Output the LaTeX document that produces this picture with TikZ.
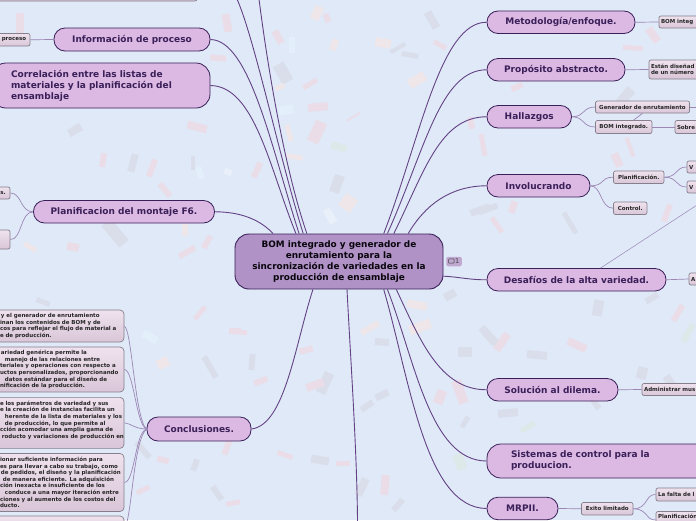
\documentclass[tikz,border=0pt]{standalone}
\usepackage{fontspec}
\setmainfont{DejaVu Sans}
\usetikzlibrary{positioning}
\definecolor{mm-back}{HTML}{DFE9F8}
\definecolor{mm-root}{HTML}{B092C6}
\definecolor{mm-topic}{HTML}{DBB9E3}
\definecolor{mm-edge}{HTML}{3A1F58}
\definecolor{mm-branch}{HTML}{634284}
\definecolor{mm-twig}{HTML}{9C86B4}
\definecolor{mm-leaftop}{HTML}{EFE2EE}
\definecolor{mm-leafbot}{HTML}{D9C6D8}
\definecolor{mm-leafedge}{HTML}{85808C}
\definecolor{cf-pink}{HTML}{EADDE8}
\definecolor{cf-grey}{HTML}{DADEEB}
\definecolor{cf-orange}{HTML}{EEE6E8}
\definecolor{cf-cyan}{HTML}{E3EFFA}
\definecolor{cf-green}{HTML}{DDE8E8}
\definecolor{cf-back}{HTML}{EAF0FA}
\tikzset{
  rootnode/.style={draw=mm-edge,fill=mm-root,line width=0.9pt,rounded corners=14pt,inner sep=0pt,
    align=center,text=black!85!mm-edge,font={\bfseries\fontsize{8.9}{11}\selectfont}},
  topic/.style={draw=mm-edge,fill=mm-topic,line width=0.8pt,rounded corners=11pt,inner sep=0pt,
    align=center,text=mm-edge,font={\bfseries\fontsize{9}{11}\selectfont}},
  leaf/.style={draw=mm-leafedge,top color=mm-leaftop,bottom color=mm-leafbot,line width=0.7pt,
    rounded corners=2pt,inner sep=0pt,align=center,text=black!85,font={\bfseries\fontsize{5.5}{6.6}\selectfont}},
  note/.style={leaf,rounded corners=4pt,text width=134pt,align=left},
  branch/.style={draw=mm-branch,line width=0.9pt},
  twig/.style={draw=mm-twig,line width=0.7pt},
}
\newcommand{\cut}[1]{\hspace*{#1pt}}
\begin{document}
\begin{tikzpicture}[x=1pt,y=-1pt]
  \useasboundingbox (0,0) rectangle (696,520);
  \fill[mm-back] (0,0) rectangle (696,520);
  % confetti
  \foreach \cx/\cy/\cw/\ch/\ca/\cc in {
    227/23/8/18/10/cf-pink, 317/13/9/14/-25/cf-orange, 327/18/6/9/20/cf-pink, 283/73/12/20/30/cf-grey,
    292/45/6/16/0/cf-cyan, 278/37/7/14/30/cf-pink, 334/45/7/11/-20/cf-orange, 383/43/16/9/-10/cf-orange,
    398/48/17/4/30/cf-grey, 410/55/17/5/-10/cf-grey, 417/80/10/18/-60/cf-orange, 432/20/8/18/30/cf-grey,
    440/45/14/5/-30/cf-pink, 218/58/16/6/-5/cf-pink, 280/87/10/5/20/cf-orange, 310/84/16/5/30/cf-pink,
    286/110/15/9/10/cf-cyan, 318/107/20/8/5/cf-pink, 353/117/16/2/30/cf-pink, 317/132/12/22/-25/cf-pink,
    339/147/16/7/-15/cf-green, 295/157/16/5/-10/cf-orange, 289/133/5/17/15/cf-orange, 471/123/6/12/10/cf-pink,
    483/145/5/22/10/cf-pink, 337/184/10/18/-20/cf-grey, 348/203/14/15/-35/cf-orange, 330/216/8/16/30/cf-back,
    488/209/20/6/20/cf-grey, 257/170/6/16/-25/cf-pink, 20/23/8/20/0/cf-pink, 75/130/14/8/30/cf-grey,
    197/127/20/8/-15/cf-pink, 103/160/6/14/-10/cf-pink, 133/163/7/18/-15/cf-grey, 152/168/6/18/-20/cf-pink,
    165/190/6/16/40/cf-pink, 193/163/4/14/0/cf-grey, 200/173/6/12/15/cf-cyan, 228/172/8/6/-20/cf-back,
    115/233/12/28/40/cf-grey, 73/247/12/8/-10/cf-pink, 185/230/6/12/0/cf-orange, 207/242/6/14/-30/cf-pink,
    187/252/18/6/30/cf-pink, 30/247/14/5/-30/cf-orange, 370/328/20/6/30/cf-orange, 382/342/14/7/-5/cf-grey,
    252/362/6/16/-5/cf-grey, 306/350/14/6/15/cf-pink, 238/332/18/5/-5/cf-pink, 261/381/14/6/20/cf-pink,
    325/383/10/22/-25/cf-grey, 315/385/18/8/20/cf-pink, 382/395/14/7/25/cf-grey, 367/406/14/6/35/cf-grey,
    320/460/18/8/-10/cf-grey, 343/463/14/5/0/cf-pink, 285/455/16/5/-20/cf-pink, 362/487/8/18/-25/cf-grey,
    385/485/8/20/-5/cf-pink, 398/505/6/14/-40/cf-grey, 420/327/10/22/-70/cf-orange, 417/305/20/8/-10/cf-orange,
    450/295/12/8/30/cf-grey, 460/392/10/24/20/cf-pink, 440/397/10/14/-20/cf-pink, 488/335/8/20/40/cf-grey,
    465/352/14/10/0/cf-grey, 465/422/5/12/-30/cf-grey, 460/462/10/16/20/cf-green, 493/340/8/20/45/cf-grey,
    502/342/8/20/-35/cf-pink, 577/345/8/20/65/cf-pink, 537/355/20/8/-5/cf-grey, 678/313/6/18/-30/cf-pink,
    688/333/6/20/-30/cf-green, 598/308/10/16/-10/cf-grey, 652/298/14/6/30/cf-grey, 642/373/10/12/-15/cf-grey,
    508/413/20/8/5/cf-grey, 528/427/16/5/30/cf-green, 595/403/6/14/35/cf-grey, 653/387/12/5/-25/cf-pink,
    670/382/8/14/35/cf-grey, 653/35/8/16/35/cf-pink, 633/48/20/5/-5/cf-pink, 625/97/10/20/-40/cf-grey,
    517/87/6/12/-65/cf-pink, 570/223/5/24/30/cf-grey, 617/160/8/14/25/cf-pink, 630/147/4/20/20/cf-pink,
    480/210/20/7/20/cf-grey, 667/213/6/18/-20/cf-pink, 513/207/7/12/-20/cf-pink, 497/225/5/18/35/cf-pink,
    43/302/14/5/-20/cf-grey, 210/367/6/24/30/cf-grey, 163/363/12/10/25/cf-orange, 150/337/16/8/-30/cf-cyan,
    143/450/6/20/40/cf-grey, 163/460/12/6/-15/cf-pink, 195/465/6/12/-20/cf-grey, 217/493/6/16/35/cf-grey,
    227/447/6/16/-20/cf-pink, 200/313/5/16/-40/cf-pink, 235/330/12/5/0/cf-pink, 143/490/14/5/25/cf-pink,
    233/503/14/5/10/cf-pink} {
    \fill[fill=\cc,shift={(\cx,\cy)},rotate=\ca] (-\cw/2,-\ch/2) rectangle (\cw/2,\ch/2);
  }
  % central node
  \node[rootnode,minimum width=208pt,minimum height=55pt] (central) at (339,261.5)
    {BOM integrado y generador de\\enrutamiento para la\\sincronización de variedades en la\\producción de ensamblaje};
  \node[fill=mm-root!80!white,rounded corners=2pt,minimum width=15.5pt,minimum height=9.5pt,inner sep=0pt,
    text=black!75,font={\fontsize{6.5}{7}\selectfont}] (comment) at (454,261.5) {\hspace*{6.5pt}1};
  \draw[black!75,line width=0.5pt,rounded corners=0.8pt] (448.5,258.8) rectangle (454,263.2);
  % topics on the left
  \node[topic,minimum width=156pt,minimum height=23pt] (info) at (132,39.5) {Información de proceso};
  \node[topic,inner xsep=19pt,text width=180pt,align=left,rounded corners=14pt,minimum height=45pt] (correl) at (101,85.5)
    {Correlación entre las listas de\\materiales y la planificación del\\ensamblaje};
  \node[topic,minimum width=181pt,minimum height=22.5pt] (montaje) at (124,211.75) {Planificacion del montaje F6.};
  \node[topic,minimum width=104pt,minimum height=24pt] (concl) at (199,429) {Conclusiones.};
  % topics on the right
  \node[topic,minimum width=148pt,minimum height=22.5pt] (metod) at (561,22.25) {Metodología/enfoque.};
  \node[topic,minimum width=138pt,minimum height=22.5pt] (propos) at (556,69.75) {Propósito abstracto.};
  \node[topic,minimum width=84.5pt,minimum height=22.5pt] (hallaz) at (529.25,116.75) {Hallazgos};
  \node[topic,minimum width=103pt,minimum height=22.5pt] (involu) at (538.5,185.75) {Involucrando};
  \node[topic,minimum width=179pt,minimum height=22.5pt] (desaf) at (576.5,279.75) {Desafíos de la alta variedad.};
  \node[topic,minimum width=131pt,minimum height=22.5pt] (soluc) at (552.5,389.75) {Solución al dilema.};
  \node[topic,inner xsep=24pt,text width=175pt,align=left,rounded corners=14pt,minimum height=34pt] (sistem) at (598.5,461)
    {Sistemas de control para la\\produucion.};
  \node[topic,minimum width=71pt,minimum height=22.5pt] (mrp) at (522.5,508.5) {MRPII.};
  % leaves on the left
  \node[leaf,minimum width=32pt,minimum height=12.5pt] (lproceso) at (14,39.75) {proceso};
  \node[leaf,minimum width=14pt,minimum height=12pt] (lmontaje) at (3,193) {s.};
  \node[leaf,minimum width=20pt,minimum height=19pt] (lvacio) at (0,239.5) {};
  \node[leaf,minimum width=207pt,minimum height=20pt] (ltop) at (93.5,-9) {};
  \node[note,minimum height=32pt] (nota) at (57,326)
    {\cut{11}y el generador de enrutamiento\\\cut{10}inan los contenidos de BOM y de\\\cut{10}cos para reflejar el flujo de material a\\\cut{10}e de producción.};
  \node[note,minimum height=45pt] (notb) at (57,369.5)
    {\cut{11}ariedad genérica permite la\\\cut{15}manejo de las relaciones entre\\\cut{10}teriales y operaciones con respecto a\\\cut{10}uctos personalizados, proporcionando\\\cut{15}datos estándar para el diseño de\\\cut{10}nificación de la producción.};
  \node[note,minimum height=51pt,anchor=north] (notc) at (57,397)
    {\cut{10}e los parámetros de variedad y sus\\\cut{10}e la creación de instancias facilita un\\\cut{15}herente de la lista de materiales y los\\\cut{15}de producción, lo que permite al\\\cut{10}cción acomodar una amplia gama de\\\cut{12}roducto y variaciones de producción en\\\vphantom{l}};
  \node[note,minimum height=58pt] (notd) at (57,482.5)
    {\cut{10}ionar suficiente información para\\\cut{10}es para llevar a cabo su trabajo, como\\\cut{11}de pedidos, el diseño y la planificación\\\cut{13}de manera eficiente. La adquisición\\\cut{10}ción inexacta e insuficiente de los\\\cut{15}conduce a una mayor iteración entre\\\cut{10}ciones y al aumento de los costos del\\\cut{10}ducto.};
  \node[note,minimum height=24pt] (note) at (57,528) {};
  % leaves on the right
  \node[leaf,minimum width=51pt,minimum height=12pt,text width=47pt,align=left] (lmetod) at (684.5,22) {BOM integ};
  \node[leaf,minimum width=61pt,minimum height=19pt,text width=57pt,align=left] (lpropos) at (679.5,69.5) {Están diseñad\\de un número};
  \node[leaf,minimum width=94pt,minimum height=12pt] (lgener) at (642.5,107) {Generador de enrutamiento};
  \node[leaf,minimum width=56.5pt,minimum height=13pt] (lbom) at (623.75,127) {BOM integrado.};
  \node[leaf,minimum width=35pt,minimum height=13pt,text width=31pt,align=left] (lsobre) at (692.5,127) {Sobre};
  \node[leaf,minimum width=50.5pt,minimum height=12.5pt] (lplan) at (638.75,177.25) {Planificación.};
  \node[leaf,minimum width=33.5pt,minimum height=12.5pt] (lcontrol) at (630.25,208.25) {Control.};
  \node[leaf,minimum width=23pt,minimum height=12pt,text width=19pt,align=left] (lv) at (698.5,167) {V};
  \node[leaf,minimum width=23pt,minimum height=12pt,text width=19pt,align=left] (lw) at (698.5,187) {V};
  \node[leaf,minimum width=21pt,minimum height=12pt,text width=17pt,align=left] (ldesaf) at (699.5,279) {A};
  \node[leaf,minimum width=68pt,minimum height=12pt,text width=64pt,align=left] (lsoluc) at (676,389.5) {Administrar mus};
  \node[leaf,minimum width=51.5pt,minimum height=12.5pt] (lexito) at (607.25,508.75) {Exito limitado};
  \node[leaf,minimum width=54pt,minimum height=13pt,text width=50pt,align=left] (lfalta) at (683,494.5) {La falta de l};
  \node[leaf,minimum width=54pt,minimum height=17pt,text width=50pt,align=left] (lplanif) at (683,520) {Planificación\\\vphantom{x}};
  % free ends
  \coordinate (topa) at (237,-1);
  \coordinate (topb) at (259,-1);
  \coordinate (bottoma) at (357.5,521);
  \coordinate (rightgen) at (697,107);
  \coordinate (rightrel) at (697,205);
  % branches from the central node
  \draw[branch] (correl.east) .. controls (255,86) and (270,170) .. (central.147.4);
  \draw[branch] (info.east) .. controls (250,40) and (272,150) .. (central.145.5);
  \draw[branch] (topa) .. controls (255,40) and (280,160) .. (central.142.6);
  \draw[branch] (topb) .. controls (268,70) and (285,170) .. (central.139.3);
  \draw[branch] (montaje.east) .. controls (245,212) and (262,222) .. (central.157.4);
  \draw[branch] (metod.west) .. controls (440,22) and (420,140) .. (central.32.2);
  \draw[branch] (propos.west) .. controls (440,70) and (425,150) .. (central.30);
  \draw[branch] (hallaz.west) .. controls (440,117) and (425,170) .. (central.27.1);
  \draw[branch] (involu.west) .. controls (450,186) and (425,205) .. (central.22.1);
  \draw[branch] (desaf.west) .. controls (470,280) and (460,277) .. (central.-8.5);
  \draw[branch] (concl.east) .. controls (285,425) and (295,345) .. (central.-133.5);
  \draw[branch] (central.-74.4) .. controls (350,350) and (357,450) .. (bottoma);
  \draw[branch] (soluc.west) .. controls (440,390) and (420,340) .. (central.-26.9);
  \draw[branch] (sistem.west) .. controls (430,461) and (415,360) .. (central.-30);
  \draw[branch] (mrp.west) .. controls (425,508) and (410,380) .. (central.-32.8);
  % twigs
  \draw[twig] (info.west) -- (lproceso.east);
  \draw[twig] (montaje.west) .. controls (20,212) and (22,193) .. (lmontaje.east);
  \draw[twig] (montaje.west) .. controls (20,212) and (22,240) .. (lvacio.east);
  \draw[twig] (concl.west) .. controls (135,420) and (132,330) .. (nota.east);
  \draw[twig] (concl.west) .. controls (136,425) and (134,370) .. (notb.east);
  \draw[twig] (concl.west) .. controls (135,429) and (130,423) .. (notc.east);
  \draw[twig] (concl.west) .. controls (135,432) and (135,482) .. (notd.east);
  \draw[twig] (concl.west) .. controls (133,440) and (132,520) .. (note.east);
  \draw[twig] (metod.east) -- (lmetod.west);
  \draw[twig] (propos.east) -- (lpropos.west);
  \draw[twig] (hallaz.east) .. controls (585,117) and (582,107) .. (lgener.west);
  \draw[twig] (hallaz.east) .. controls (585,117) and (582,127) .. (lbom.west);
  \draw[twig] (lbom.east) -- (lsobre.west);
  \draw[twig] (lgener.east) -- (rightgen);
  \draw[twig] (lbom.35) -- (lgener.south);
  \draw[twig] (involu.east) .. controls (605,186) and (600,177) .. (lplan.west);
  \draw[twig] (involu.east) .. controls (602,186) and (600,208) .. (lcontrol.west);
  \draw[twig] (lplan.east) .. controls (678,177) and (675,167) .. (lv.west);
  \draw[twig] (lplan.east) .. controls (678,177) and (675,187) .. (lw.west);
  \draw[twig] (desaf.east) -- (ldesaf.west);
  \draw[twig] (soluc.east) -- (lsoluc.west);
  \draw[twig] (mrp.east) -- (lexito.west);
  \draw[twig] (lexito.east) .. controls (648,509) and (645,494) .. (lfalta.west);
  \draw[twig] (lexito.east) .. controls (648,509) and (645,520) .. (lplanif.west);
  \draw[twig,line width=0.5pt] (desaf.north) ++(24,0) coordinate (relstart) (relstart) -- (rightrel);
\end{tikzpicture}
\end{document}
